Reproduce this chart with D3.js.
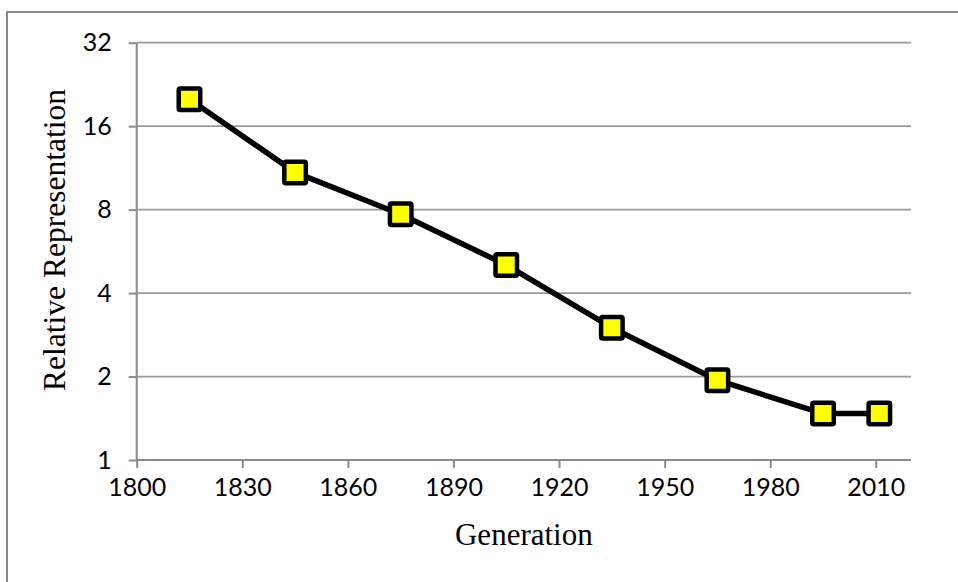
<!DOCTYPE html>
<html><head><meta charset="utf-8">
<script src="https://cdn.jsdelivr.net/npm/d3@7"></script>
<style>body{margin:0;background:#fff}svg{display:block}</style>
</head><body>
<svg id="c" width="958" height="582"></svg>
<script>
const years = [1815, 1845, 1875, 1905, 1935, 1965, 1995, 2011];
const values = [20, 10.9, 7.7, 5.05, 3.0, 1.94, 1.47, 1.47];
const xTicks = [1800, 1830, 1860, 1890, 1920, 1950, 1980, 2010];
const yTicks = [1, 2, 4, 8, 16, 32];
const xTitle = "Generation";
const yTitle = "Relative Representation";

const svg = d3.select("#c");
const L = 136.7, R = 911, T = 42.7, B = 460;
const x = d3.scaleLinear().domain([1800, 2020]).range([L, R]);
const y = d3.scaleLog().base(2).domain([1, 32]).range([B, T]);

svg.append("rect").attr("x", 7).attr("y", 12).attr("width", 1000).attr("height", 700)
  .attr("fill", "none").attr("stroke", "#888").attr("stroke-width", 2);

// gridlines
svg.append("g").selectAll("line").data(yTicks.slice(1)).join("line")
  .attr("x1", L).attr("x2", R).attr("y1", d => y(d)).attr("y2", d => y(d))
  .attr("stroke", "#9a9a9a").attr("stroke-width", 1.8);

// y axis
const ya = svg.append("g").attr("transform", `translate(${L},0)`)
  .call(d3.axisLeft(y).tickValues(yTicks).tickFormat(d3.format("d")).tickSize(8).tickPadding(17));
// x axis
const xa = svg.append("g").attr("transform", `translate(0,${B})`)
  .call(d3.axisBottom(x).tickValues(xTicks).tickFormat(d3.format("d")).tickSize(8).tickPadding(10));
[ya, xa].forEach(g => {
  g.select(".domain").attr("stroke", "#8a8a8a").attr("stroke-width", 2);
  g.selectAll(".tick line").attr("stroke", "#8a8a8a").attr("stroke-width", 2);
  g.selectAll("text").attr("font-family", "Lato, 'Open Sans', sans-serif").attr("font-size", 25).attr("fill", "#000");
});
xa.select(".domain").attr("d", `M${L},0H${R}`);
ya.select(".domain").attr("d", `M0,${B}V${T}`);

// line
svg.append("path").datum(years.map((d, i) => [d, values[i]]))
  .attr("d", d3.line().x(d => x(d[0])).y(d => y(d[1])))
  .attr("fill", "none").attr("stroke", "#000").attr("stroke-width", 5.5).attr("stroke-linejoin", "round");

// markers
const s = 21.5;
svg.append("g").selectAll("rect").data(years.map((d, i) => [d, values[i]])).join("rect")
  .attr("x", d => x(d[0]) - s / 2).attr("y", d => y(d[1]) - s / 2)
  .attr("width", s).attr("height", s).attr("rx", 1.5)
  .attr("fill", "#ffff00").attr("stroke", "#000").attr("stroke-width", 4.5);

svg.append("text").attr("x", (L + R) / 2).attr("y", 545).attr("text-anchor", "middle")
  .attr("font-family", "'Liberation Serif', 'DejaVu Serif', serif").attr("font-size", 31)
  .text(xTitle);
svg.append("text").attr("transform", `translate(65,240) rotate(-90)`).attr("text-anchor", "middle")
  .attr("font-family", "'Liberation Serif', 'DejaVu Serif', serif").attr("font-size", 31.5)
  .text(yTitle);
</script>
</body></html>
